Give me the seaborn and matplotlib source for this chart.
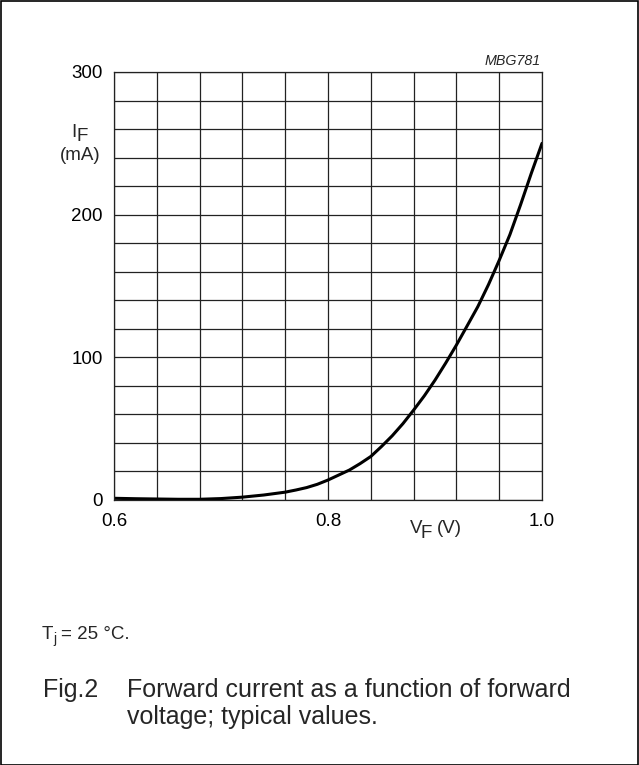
import matplotlib
matplotlib.use("Agg")
import matplotlib.pyplot as plt
import seaborn as sns
import pandas as pd
from matplotlib.patches import Rectangle

# Data (V_F in V, I_F in mA)
vf = [0.60, 0.62, 0.64, 0.66, 0.68, 0.70, 0.72, 0.74, 0.76, 0.77, 0.78, 0.79,
      0.80, 0.81, 0.82, 0.83, 0.84, 0.85, 0.86, 0.87, 0.88, 0.89, 0.90, 0.91,
      0.92, 0.93, 0.94, 0.95, 0.96, 0.97, 0.98, 0.99, 1.00]
i_f = [1.2, 0.9, 0.7, 0.5, 0.5, 1.0, 2.0, 3.5, 5.5, 7.0, 8.7, 11.0,
       14.0, 17.5, 21.0, 25.5, 30.5, 37.5, 45.0, 53.5, 63.0, 73.0, 84.0, 96.0,
       108.6, 122.0, 135.5, 151.0, 168.0, 186.0, 207.0, 229.0, 250.0]
x_ticks = [0.6, 0.8, 1.0]
x_ticklabels = ["0.6", "0.8", "1.0"]
y_ticks = [0, 100, 200, 300]
y_ticklabels = ["0", "100", "200", "300"]

df = pd.DataFrame({"VF": vf, "IF": i_f})

sns.set_style("white")
plt.rcParams["font.family"] = ["Liberation Sans", "DejaVu Sans"]

W, H = 639, 765
fig = plt.figure(figsize=(W / 100, H / 100), dpi=100)
ax = fig.add_axes([114 / W, 1 - 500 / H, 428 / W, 428 / H])

sns.lineplot(data=df, x="VF", y="IF", ax=ax, color="black", linewidth=2.2)
ax.lines[0].set_solid_joinstyle("round")

ax.set_xlim(0.6, 1.0)
ax.set_ylim(0, 300)
# grid
for k in range(11):
    ax.axvline(0.6 + 0.04 * k, color="#222222", linewidth=0.9, zorder=0)
for k in range(16):
    ax.axhline(20 * k, color="#222222", linewidth=0.9, zorder=0)

ax.set_xticks(x_ticks)
ax.set_xticklabels(x_ticklabels)
ax.set_yticks(y_ticks)
ax.set_yticklabels(y_ticklabels)
ax.tick_params(axis="both", length=0, labelsize=13.5, colors="black")
ax.tick_params(axis="x", pad=9)
ax.tick_params(axis="y", pad=8)
for s in ax.spines.values():
    s.set_color("#222222")
    s.set_linewidth(0.9)
ax.set_xlabel("")
ax.set_ylabel("")

def px(x, y):
    return x / W, 1 - y / H

# Axis labels
fig.text(*px(71, 137), "I", fontsize=13.5, ha="left", va="baseline")
fig.text(*px(76, 141), "F", fontsize=13.5, ha="left", va="baseline")
fig.text(*px(80, 160), "(mA)", fontsize=13.5, ha="center", va="baseline")
fig.text(*px(410, 533), "V", fontsize=13.5, ha="left", va="baseline")
fig.text(*px(421, 538), "F", fontsize=13.5, ha="left", va="baseline")
fig.text(*px(437, 533), "(V)", fontsize=13.5, ha="left", va="baseline")
fig.text(*px(541, 65), "MBG781", fontsize=10.3, style="italic", ha="right", va="baseline")

# Conditions and caption
fig.text(*px(42, 639), "T", fontsize=13.5, ha="left", va="baseline")
fig.text(*px(53.5, 643), "j", fontsize=10, ha="left", va="baseline")
fig.text(*px(61, 639), "= 25 °C.", fontsize=13.5, ha="left", va="baseline")
fig.text(*px(43, 697), "Fig.2", fontsize=18, ha="left", va="baseline")
fig.text(*px(127, 697), "Forward current as a function of forward", fontsize=18, ha="left", va="baseline")
fig.text(*px(127, 724), "voltage; typical values.", fontsize=18, ha="left", va="baseline")

# Outer frame
fig.patches.append(Rectangle((0.5 / W, 0.5 / H), 1 - 1.5 / W, 1 - 1.5 / H,
                             transform=fig.transFigure, fill=False,
                             edgecolor="black", linewidth=1.2))

fig.savefig("out.png", dpi=100)
